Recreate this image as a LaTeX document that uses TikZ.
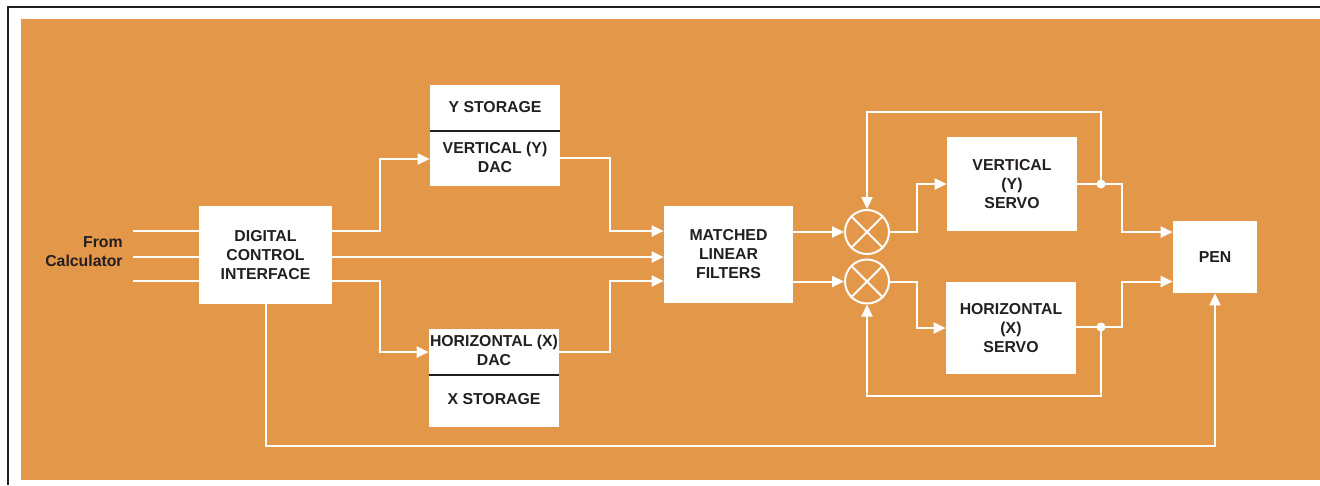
\documentclass[tikz,border=0pt]{standalone}
\usepackage{fontspec}
\setmainfont{Liberation Sans}
\usepackage{xcolor}
\usepackage{tikz}
\usetikzlibrary{arrows.meta, positioning, calc}
\definecolor{plotorange}{RGB}{227,151,72}
\definecolor{ink}{RGB}{35,31,32}

\begin{document}
\begin{tikzpicture}[
    x=0.2mm, y=-0.2mm,
    box/.style={rectangle, fill=white, inner sep=0pt, align=center, text=ink, font=\bfseries\fontsize{9}{10.8}\selectfont},
    lbl/.style={inner sep=0pt, align=center, text=ink, font=\bfseries\fontsize{9}{10.8}\selectfont},
    wire/.style={draw=white, line width=0.4mm},
    feed/.style={wire, -{Triangle[length=2.4mm, width=2.2mm]}},
    mixer/.style={circle, draw=white, line width=0.4mm, minimum size=8.8mm, inner sep=0pt},
    tap/.style={circle, fill=white, inner sep=0pt, minimum size=1.8mm},
    divider/.style={draw=ink, line width=0.4mm}
]
    % PAGE AND PANEL
    \useasboundingbox (0,0) rectangle (1320,485);
    \fill[white] (0,0) rectangle (1320,485);
    \draw[ink, line width=0.3mm] (8,485) -- (8,7) -- (1320,7);
    \fill[plotorange] (21,19) rectangle (1320,480);

    % LEFT: INTERFACE AND DACS
    \node (Source) [lbl, anchor=east, align=right] at (123,252) {From\\Calculator};
    \coordinate (InA) at (133,231);
    \coordinate (InB) at (133,257);
    \coordinate (InC) at (133,281);
    \node (Interface) [box, minimum width=26.6mm, minimum height=19.6mm] at (265.5,255) {DIGITAL\\CONTROL\\INTERFACE};

    \node (YDac) [box, minimum width=26mm, minimum height=20.2mm] at (495,135.5) {};
    \node (YStore) [lbl] at (495,107) {Y STORAGE};
    \node (YConv) [lbl] at (495,157.5) {VERTICAL (Y)\\DAC};
    \draw[divider] (YDac.west |- 0,131) -- (YDac.east |- 0,131);

    \node (XDac) [box, minimum width=26mm, minimum height=19.6mm] at (494,378) {};
    \node (XConv) [lbl] at (494,350.5) {HORIZONTAL (X)\\DAC};
    \node (XStore) [lbl] at (494,399) {X STORAGE};
    \draw[divider] (XDac.west |- 0,375) -- (XDac.east |- 0,375);

    \draw[wire] (InA) -- (Interface.west |- InA);
    \draw[wire] (InB) -- (Interface.west |- InB);
    \draw[wire] (InC) -- (Interface.west |- InC);
    \draw[feed] (Interface.east |- InA) -- (380,231) |- (YDac.west |- 0,159);
    \draw[feed] (Interface.east |- InC) -- (380,281) |- (XDac.west |- 0,352);

    % MIDDLE: FILTERS
    \node (Filters) [box, minimum width=25.8mm, minimum height=19.4mm] at (728.5,254.5) {MATCHED\\LINEAR\\FILTERS};
    \draw[feed] (YDac.east |- 0,158) -- (610,158) |- (Filters.west |- 0,231);
    \draw[feed] (Interface.east |- InB) -- (Filters.west |- InB);
    \draw[feed] (XDac.east |- 0,352) -- (610,352) |- (Filters.west |- 0,281);

    % RIGHT: SERVO LOOPS
    \node (MixY) [mixer] at (867,232) {};
    \node (MixX) [mixer] at (867,281.5) {};
    \draw[wire] (MixY.north west) -- (MixY.south east) (MixY.north east) -- (MixY.south west);
    \draw[wire] (MixX.north west) -- (MixX.south east) (MixX.north east) -- (MixX.south west);
    \node (ServoY) [box, minimum width=26mm, minimum height=18.8mm] at (1012,184) {VERTICAL\\(Y)\\SERVO};
    \node (ServoX) [box, minimum width=26mm, minimum height=18.4mm] at (1011,328) {HORIZONTAL\\(X)\\SERVO};
    \node (Pen) [box, minimum width=16.8mm, minimum height=14.4mm] at (1215,257) {PEN};
    \node (TapY) [tap] at (1101,184) {};
    \node (TapX) [tap] at (1101,327) {};

    \draw[feed] (Filters.east |- MixY) -- (MixY);
    \draw[feed] (Filters.east |- MixX) -- (MixX);
    \draw[feed] (MixY.east) -- (917,232) |- (ServoY.west);
    \draw[feed] (MixX.east) -- (917,281.5) |- (ServoX.west);
    \draw[feed] (ServoY.east) -- (1122,184) |- (Pen.west |- MixY);
    \draw[feed] (ServoX.east |- TapX) -- (1122,327) |- (Pen.west |- MixX);
    \draw[feed] (TapY.center) -- (1101,112) -| (MixY.north);
    \draw[feed] (TapX.center) -- (1101,396) -| (MixX.south);
    \draw[feed] (Interface.south) -- (Interface.south |- 0,446) -| (Pen.south);
\end{tikzpicture}
\end{document}
